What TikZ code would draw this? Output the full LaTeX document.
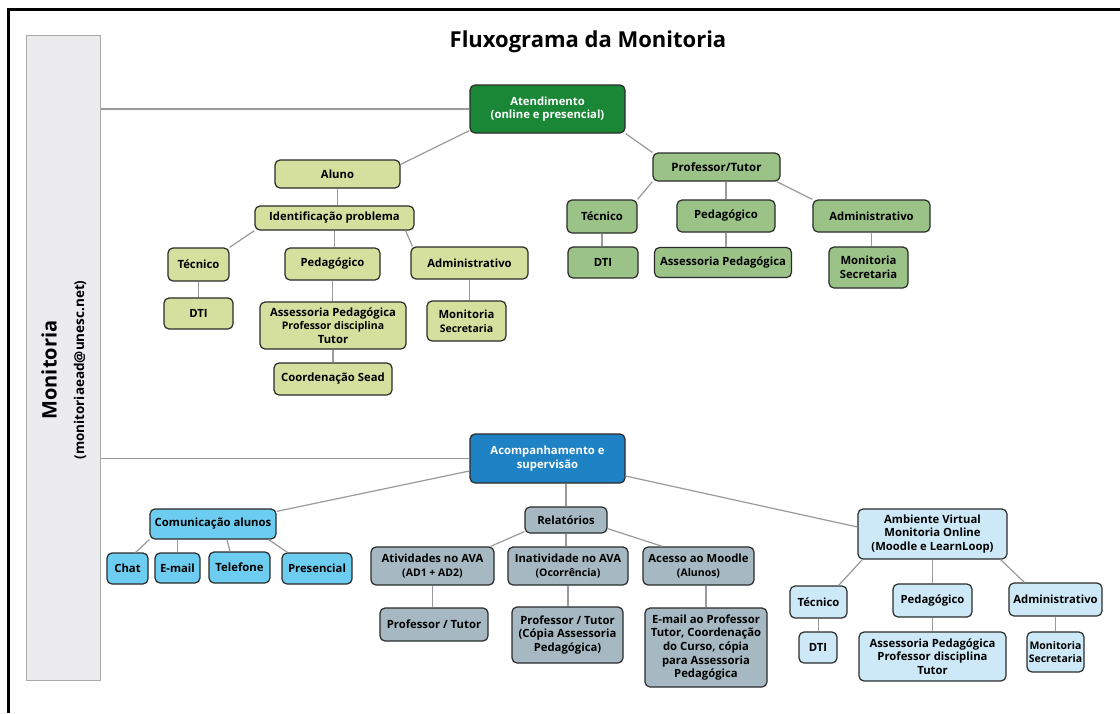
\documentclass[tikz,border=0pt]{standalone}
\usepackage{fontspec}
\setmainfont{Open Sans}
\usetikzlibrary{calc}
\definecolor{boxline}{HTML}{2B2B2B}
\definecolor{conn}{HTML}{9A9A9A}
\definecolor{dkgreen}{HTML}{1A8737}
\definecolor{olive}{HTML}{D5E09E}
\definecolor{midgreen}{HTML}{9BC287}
\definecolor{acblue}{HTML}{1F82C4}
\definecolor{cyanbox}{HTML}{6CCDF1}
\definecolor{grayblue}{HTML}{A6B8C2}
\definecolor{paleblue}{HTML}{CDE9F7}
\definecolor{panelfill}{HTML}{ECECEF}
\definecolor{panelline}{HTML}{ABABAB}
\newcommand{\fsA}{\fontsize{11.3}{13.6}\selectfont}
\newcommand{\fsS}{\fontsize{10.5}{12.5}\selectfont}
\begin{document}
\begin{tikzpicture}[x=1pt,y=-1pt,
  box/.style={draw=boxline, line width=1.2pt, rounded corners=5pt, align=center,
    font=\bfseries\fsA, inner sep=1pt, text=black},
  gA/.style={box, fill=olive},
  gP/.style={box, fill=midgreen},
  gC/.style={box, fill=cyanbox},
  gR/.style={box, fill=grayblue},
  gV/.style={box, fill=paleblue},
  link/.style={draw=conn, line width=1.2pt},
  sz/.style 2 args={minimum width=#1, minimum height=#2}
]
\useasboundingbox (0,0) rectangle (1120,713);
\fill[white] (0,0) rectangle (1120,713);
\draw[line width=3pt] (1120,9) -- (8,9) -- (8,713);

% left panel
\node[draw=panelline, fill=panelfill, line width=1pt, minimum width=74, minimum height=645, inner sep=0pt] (panel) at (63,357.5) {};
\node[rotate=90, font=\bfseries\fontsize{20}{22}\selectfont] (mon) at (49,370) {Monitoria};
\node[rotate=90, font=\bfseries\fontsize{13.5}{15}\selectfont] (mail) at (80,370) {(monitoriaead@unesc.net)};

% title
\node[font=\bfseries\fontsize{22}{24}\selectfont] (title) at (588,42) {Fluxograma da Monitoria};

% top tree
\node[box, fill=dkgreen, text=white, sz={155}{48}] (atend) at (547.5,109) {Atendimento\\(online e presencial)};
\node[gA, sz={125}{28}] (aluno) at (337.5,174) {Aluno};
\node[gA, sz={159}{24}] (ident) at (334.5,218) {Identificação problema};
\node[gA, sz={61}{33}] (tecA) at (198.5,264.5) {Técnico};
\node[gA, sz={95}{32}] (pedA) at (332.5,264) {Pedagógico};
\node[gA, sz={117}{32}] (admA) at (469.5,263) {Administrativo};
\node[gA, sz={69}{31}] (dtiA) at (198.5,313.5) {DTI};
\node[gA, sz={146}{47}] (assA) at (333,325.5) {Assessoria Pedagógica\\{\fsS Professor disciplina}\\Tutor};
\node[gA, sz={79}{40}] (monA) at (466.5,321) {Monitoria\\{\fsS Secretaria}};
\node[gA, sz={118}{32}] (coordA) at (333,379) {Coordenação Sead};

\node[gP, sz={127}{28}, font=\bfseries\fontsize{11.5}{13}\selectfont] (prof) at (716.5,167) {Professor/Tutor};
\node[gP, sz={70}{33}] (tecP) at (602,216.5) {Técnico};
\node[gP, sz={98}{32}] (pedP) at (726,216) {Pedagógico};
\node[gP, sz={117}{32}] (admP) at (871.5,216) {Administrativo};
\node[gP, sz={70}{31}] (dtiP) at (603,262.5) {DTI};
\node[gP, sz={137}{30}] (assP) at (723,262.5) {Assessoria Pedagógica};
\node[gP, sz={79}{41}] (monP) at (868.5,267.5) {Monitoria\\Secretaria};

% bottom tree
\node[box, fill=acblue, text=white, sz={155}{49}] (acomp) at (547.5,458.5) {Acompanhamento e\\supervisão};
\node[gC, sz={126}{30}] (com) at (213,524) {Comunicação alunos};
\node[gC, sz={41}{31}] (chat) at (127.5,568.5) {Chat};
\node[gC, sz={45}{30}] (email) at (177.5,568) {E-mail};
\node[gC, sz={61}{31}] (tel) at (239.5,567.5) {Telefone};
\node[gC, sz={70}{31}] (pres) at (317,568.5) {Presencial};

\node[gR, sz={82}{26}] (rel) at (566,520) {Relatórios};
\node[gR, sz={123}{38}] (ativ) at (432.5,566) {Atividades no AVA\\{\fsS (AD1 + AD2)}};
\node[gR, sz={120}{38}] (inat) at (568,566) {Inatividade no AVA\\{\fsS (Ocorrência)}};
\node[gR, sz={111}{38}] (aces) at (698.5,566) {Acesso ao Moodle\\{\fsS (Alunos)}};
\node[gR, sz={108}{33}] (profT) at (434,624.5) {Professor / Tutor};
\node[gR, sz={111}{56}] (profC) at (567.5,635) {Professor / Tutor\\(Cópia Assessoria\\Pedagógica)};
\node[gR, sz={122}{79}] (emailP) at (706,647.5) {E-mail ao Professor\\Tutor, Coordenação\\do Curso, cópia\\para Assessoria\\Pedagógica};

\node[gV, sz={149}{50}] (amb) at (932.5,534) {Ambiente Virtual\\Monitoria Online\\(Moodle e LearnLoop)};
\node[gV, sz={57}{32}] (tecV) at (818.5,602) {Técnico};
\node[gV, sz={79}{33}] (pedV) at (932.5,600.5) {Pedagógico};
\node[gV, sz={93}{33}] (admV) at (1055.5,599.5) {Administrativo};
\node[gV, sz={38}{31}] (dtiV) at (818,647.5) {DTI};
\node[gV, sz={147}{49}] (assV) at (932.5,656.5) {Assessoria Pedagógica\\Professor disciplina\\Tutor};
\node[gV, sz={57}{40}, inner sep=0pt, font=\bfseries\fontsize{10.5}{13}\selectfont] (monV) at (1055.5,652) {Monitoria\\Secretaria};

% connectors
\draw[link] (panel.east |- atend.west) -- (atend.west);
\draw[link] (panel.east |- acomp.west) -- (acomp.west);

\draw[link] ([yshift=3pt]atend.south west) -- ([yshift=-5pt]aluno.north east);
\draw[link] (atend.south east) -- (prof.north west);
\draw[link] (aluno.south) -- (aluno.south |- ident.north);
\draw[link] (ident.south west) -- (tecA.north east);
\draw[link] (ident.south) -- (ident.south |- pedA.north);
\draw[link] ([xshift=-9pt]ident.south east) -- ([xshift=2pt]admA.north west);
\draw[link] (tecA.south) -- (dtiA.north);
\draw[link] (pedA.south) -- (pedA.south |- assA.north);
\draw[link] (admA.south) -- (admA.south |- monA.north);
\draw[link] (assA.south) -- (coordA.north);

\draw[link] (prof.south west) -- (tecP.north east);
\draw[link] (pedP.north |- prof.south) -- (pedP.north);
\draw[link] ([xshift=-4pt]prof.south east) -- (admP.north west);
\draw[link] (tecP.south) -- (tecP.south |- dtiP.north);
\draw[link] (pedP.south) -- (pedP.south |- assP.north);
\draw[link] (admP.south) -- (admP.south |- monP.north);

\draw[link] ([yshift=-12.5pt]acomp.west) -- ([yshift=-3pt]com.north east);
\draw[link] (rel.north |- acomp.south) -- (rel.north);
\draw[link] ([yshift=-17.5pt]acomp.east) -- ([yshift=7pt]amb.west);
\draw[link] ([yshift=2pt]rel.south west) -- ([xshift=-4pt]ativ.north east);
\draw[link] (rel.south) -- (rel.south |- inat.north);
\draw[link] ([yshift=5pt]rel.south east) -- ([xshift=20pt]aces.north west);
\draw[link] (ativ.south) -- (ativ.south |- profT.north);
\draw[link] (inat.south) -- (inat.south |- profC.north);
\draw[link] (emailP.north |- aces.south) -- (emailP.north);

\draw[link] (com.south west) -- ([xshift=-13pt]chat.north east);
\draw[link] (email.north |- com.south) -- (email.north);
\draw[link] ([xshift=14pt]com.south) -- ([xshift=-9.5pt]tel.north);
\draw[link] ([xshift=-8pt]com.south east) -- ([xshift=6pt]pres.north west);

\draw[link] ([xshift=5pt]amb.south west) -- ([xshift=-9pt]tecV.north east);
\draw[link] (amb.south) -- (pedV.north);
\draw[link] ([xshift=-7pt]amb.south east) -- ([xshift=16pt]admV.north west);
\draw[link] (tecV.south) -- (tecV.south |- dtiV.north);
\draw[link] (pedV.south) -- (assV.north);
\draw[link] (admV.south) -- (monV.north);
\end{tikzpicture}
\end{document}
